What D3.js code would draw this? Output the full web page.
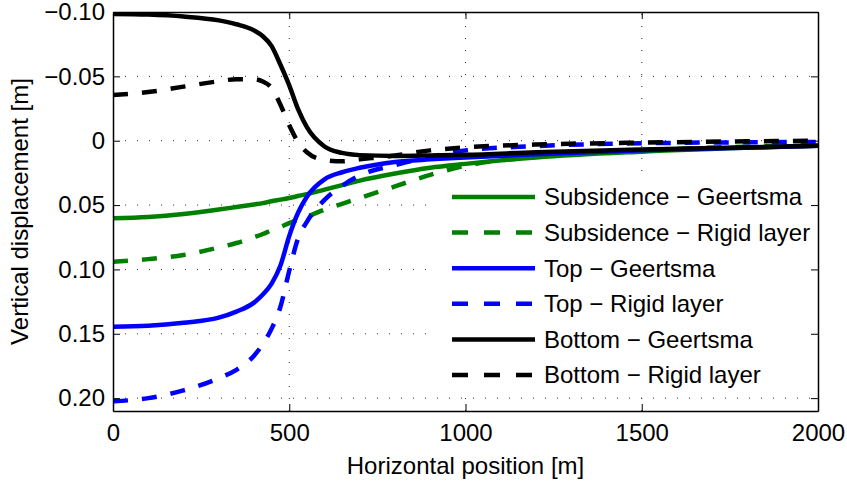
<!DOCTYPE html>
<html>
<head>
<meta charset="utf-8">
<script src="https://cdn.jsdelivr.net/npm/d3@7/dist/d3.min.js"></script>
<style>
  html, body { margin: 0; padding: 0; background: #fff; }
  svg { display: block; }
  text { font-family: "Liberation Sans", Arial, Helvetica, sans-serif; fill: #000; }
</style>
</head>
<body>
<svg id="chart" width="847" height="481"></svg>
<script>
// Horizontal positions (m) at which the displacement profiles are sampled
const positions = [0, 100, 200, 300, 350, 400, 425, 450, 475, 500, 525, 550, 600, 650, 700, 800, 900, 1000, 1200, 1500, 2000];

// Vertical displacement (m), positive downward
const subsidenceGeertsma = [0.0603, 0.0593, 0.057, 0.0535, 0.0515, 0.0495, 0.0485, 0.047, 0.0458, 0.0445, 0.043, 0.0415, 0.038, 0.0345, 0.031, 0.0255, 0.021, 0.018, 0.013, 0.0085, 0.004];
const subsidenceRigid    = [0.094, 0.092, 0.0888, 0.083, 0.0795, 0.075, 0.0725, 0.0695, 0.067, 0.064, 0.0615, 0.059, 0.0535, 0.049, 0.0445, 0.0355, 0.0265, 0.0195, 0.0125, 0.0075, 0.0035];
const topGeertsma        = [0.1445, 0.1438, 0.1415, 0.1375, 0.1328, 0.1258, 0.1195, 0.111, 0.097, 0.074, 0.056, 0.0435, 0.030, 0.0245, 0.021, 0.0165, 0.0145, 0.013, 0.0105, 0.0075, 0.004];
const topRigid           = [0.2025, 0.2, 0.194, 0.1845, 0.178, 0.167, 0.158, 0.146, 0.129, 0.101, 0.076, 0.063, 0.046, 0.035, 0.027, 0.019, 0.0125, 0.0075, 0.0042, 0.002, 0.001];
const bottomGeertsma     = [-0.0985, -0.098, -0.0965, -0.0935, -0.0905, -0.0857, -0.0812, -0.0735, -0.059, -0.043, -0.0245, -0.0105, 0.0045, 0.0095, 0.0112, 0.0118, 0.0115, 0.011, 0.009, 0.0068, 0.004];
const bottomRigid        = [-0.0355, -0.0378, -0.042, -0.0462, -0.0478, -0.0478, -0.046, -0.041, -0.028, -0.012, 0.001, 0.009, 0.015, 0.016, 0.0145, 0.0115, 0.0075, 0.0052, 0.003, 0.0015, 0.0];

const seriesNames  = ["Subsidence \u2212 Geertsma", "Subsidence \u2212 Rigid layer", "Top \u2212 Geertsma", "Top \u2212 Rigid layer", "Bottom \u2212 Geertsma", "Bottom \u2212 Rigid layer"];
const seriesValues = [subsidenceGeertsma, subsidenceRigid, topGeertsma, topRigid, bottomGeertsma, bottomRigid];
const seriesColors = ["#008000", "#008000", "#0000ff", "#0000ff", "#000000", "#000000"];
const seriesDashed = [false, true, false, true, false, true];

const xTicks = [0, 500, 1000, 1500, 2000];
const yTicks = [-0.10, -0.05, 0, 0.05, 0.10, 0.15, 0.20];

(function draw() {
  const svg = d3.select("#chart");
  const plotL = 113, plotR = 818, plotT = 12, plotB = 411;
  const fontSize = 24;

  const x = d3.scaleLinear().domain([0, 2000]).range([plotL, plotR]);
  const y = d3.scaleLinear().domain([-0.10, 0.21]).range([plotT, plotB]);

  const yFmt = d => d === 0 ? "0" : d3.format(".2f")(d);

  // dotted grid
  const grid = svg.append("g").attr("stroke", "#333").attr("stroke-width", 1).attr("stroke-dasharray", "1,11");
  xTicks.filter(t => t > 0 && t < 2000).forEach(t => {
    grid.append("line").attr("x1", x(t)).attr("x2", x(t)).attr("y1", plotB).attr("y2", plotT);
  });
  yTicks.forEach(t => {
    if (y(t) > plotT + 1 && y(t) < plotB - 1)
      grid.append("line").attr("x1", plotL).attr("x2", plotR).attr("y1", y(t)).attr("y2", y(t));
  });

  // curves
  svg.append("clipPath").attr("id", "plotClip").append("rect")
    .attr("x", plotL).attr("y", plotT).attr("width", plotR - plotL).attr("height", plotB - plotT);

  const line = d3.line().x(d => x(d[0])).y(d => y(d[1])).curve(d3.curveMonotoneX);
  const curves = svg.append("g").attr("clip-path", "url(#plotClip)");
  seriesValues.forEach((vals, i) => {
    curves.append("path")
      .datum(positions.map((p, j) => [p, vals[j]]))
      .attr("d", line)
      .attr("fill", "none")
      .attr("stroke", seriesColors[i])
      .attr("stroke-width", 4.5)
      .attr("stroke-linejoin", "round")
      .attr("stroke-dasharray", seriesDashed[i] ? "15,14" : null);
  });

  // axes with inward ticks on all four sides
  const tickLen = 7;
  function styleAxis(g) {
    g.selectAll("path").attr("stroke", "#000").attr("stroke-width", 1.5);
    g.selectAll("line").attr("stroke", "#000").attr("stroke-width", 1);
    g.selectAll("text").attr("font-size", fontSize).attr("font-family", "Liberation Sans, Arial, sans-serif").attr("fill", "#000");
  }
  svg.append("g").attr("transform", `translate(0,${plotB})`)
    .call(d3.axisBottom(x).tickValues(xTicks).tickSizeInner(-tickLen).tickSizeOuter(0).tickPadding(13).tickFormat(d3.format("d")))
    .call(styleAxis);
  svg.append("g").attr("transform", `translate(0,${plotT})`)
    .call(d3.axisTop(x).tickValues(xTicks).tickSizeInner(-tickLen).tickSizeOuter(0).tickFormat(""))
    .call(styleAxis);
  svg.append("g").attr("transform", `translate(${plotL},0)`)
    .call(d3.axisLeft(y).tickValues(yTicks).tickSizeInner(-tickLen).tickSizeOuter(0).tickPadding(8).tickFormat(yFmt))
    .call(styleAxis);
  svg.append("g").attr("transform", `translate(${plotR},0)`)
    .call(d3.axisRight(y).tickValues(yTicks).tickSizeInner(-tickLen).tickSizeOuter(0).tickFormat(""))
    .call(styleAxis);

  // axis labels
  svg.append("text").attr("x", (plotL + plotR) / 2).attr("y", 474)
    .attr("text-anchor", "middle").attr("font-size", fontSize).text("Horizontal position [m]");
  svg.append("text").attr("transform", `translate(28,${(plotT + plotB) / 2}) rotate(-90)`)
    .attr("text-anchor", "middle").attr("font-size", fontSize).text("Vertical displacement [m]");

  // legend
  const legend = svg.append("g");
  legend.append("rect").attr("x", 434).attr("y", 178).attr("width", 376).attr("height", 216).attr("fill", "#fff");
  const rowY0 = 197, rowStep = 35.6;
  seriesNames.forEach((name, i) => {
    const ry = rowY0 + i * rowStep;
    legend.append("line").attr("x1", 452).attr("x2", 535).attr("y1", ry).attr("y2", ry)
      .attr("stroke", seriesColors[i]).attr("stroke-width", 4.5)
      .attr("stroke-dasharray", seriesDashed[i] ? "16,16" : null);
    legend.append("text").attr("x", 544).attr("y", ry).attr("dy", "0.35em")
      .attr("font-size", fontSize).text(name);
  });
})();
</script>
</body>
</html>
